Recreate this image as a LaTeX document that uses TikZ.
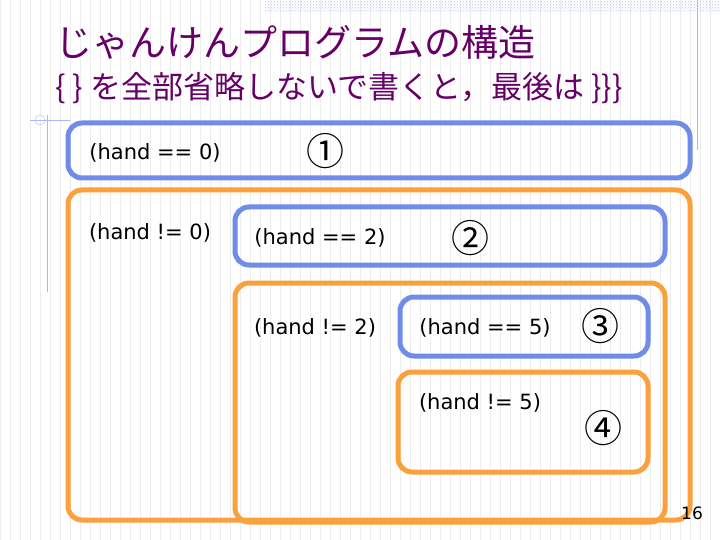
\documentclass[tikz,border=0pt]{standalone}
\usepackage{fontspec}
\setmainfont{DejaVu Sans}
\newfontfamily\cjk{Noto Sans CJK JP}
\usetikzlibrary{patterns}
\definecolor{boxblue}{RGB}{112,140,232}
\definecolor{boxorange}{RGB}{250,160,60}
\definecolor{titlepurple}{RGB}{102,0,102}
\tikzset{
	bluebox/.style={draw=boxblue,line width=5pt,rounded corners=14pt},
	orangebox/.style={draw=boxorange,line width=5pt,rounded corners=14pt},
	cond/.style={font=\fontsize{21}{23}\selectfont},
	num/.style={font=\cjk\fontsize{38}{40}\selectfont}
}
\begin{document}
\begin{tikzpicture}[x=1pt,y=-1pt]
		\useasboundingbox (0,0) rectangle (720,540);
		\fill[white] (0,0) rectangle (720,540);
		% light slide grid
		\draw[black!7,step=10] (0,0) grid (720,540);
		\fill[pattern=crosshatch dots,pattern color=boxblue!50] (265,0) rectangle (720,12);
		\draw[boxblue!60] (697,0) -- (697,150);
		\draw[boxblue!60] (47,115) -- (47,292) (30,120) -- (70,120);
		\draw[boxblue!60] (40,120) circle (5);
		% title
		\node[anchor=west,text=titlepurple,font=\cjk\fontsize{37}{39}\selectfont] (title) at (52,42) {じゃんけんプログラムの構造};
		\node[anchor=west,text=titlepurple,font=\cjk\fontsize{31}{33}\selectfont] (subtitle) at (52,88) {\{ \} を全部省略しないで書くと，最後は \}\}\}};
		% nested blocks
		\draw[bluebox] (68,123) rectangle (690,178);
		\draw[orangebox] (68,190) rectangle (690,520);
		\draw[bluebox] (235,207) rectangle (665,265);
		\draw[orangebox] (235,283) rectangle (665,522);
		\draw[bluebox] (400,297) rectangle (648,356);
		\draw[orangebox] (398,372) rectangle (648,472);
		% conditions
		\node[cond] (eq0) at (155,153) {(hand == 0)};
		\node[cond] (ne0) at (150,233) {(hand != 0)};
		\node[cond] (eq2) at (320,238) {(hand == 2)};
		\node[cond] (ne2) at (315,328) {(hand != 2)};
		\node[cond] (eq5) at (485,328) {(hand == 5)};
		\node[cond] (ne5) at (480,403) {(hand != 5)};
		\node[num] (n1) at (325,151) {①};
		\node[num] (n2) at (470,238) {②};
		\node[num] (n3) at (600,326) {③};
		\node[num] (n4) at (603,428) {④};
		\node[font=\fontsize{17}{19}\selectfont] (page) at (692,513) {16};
\end{tikzpicture}
\end{document}
